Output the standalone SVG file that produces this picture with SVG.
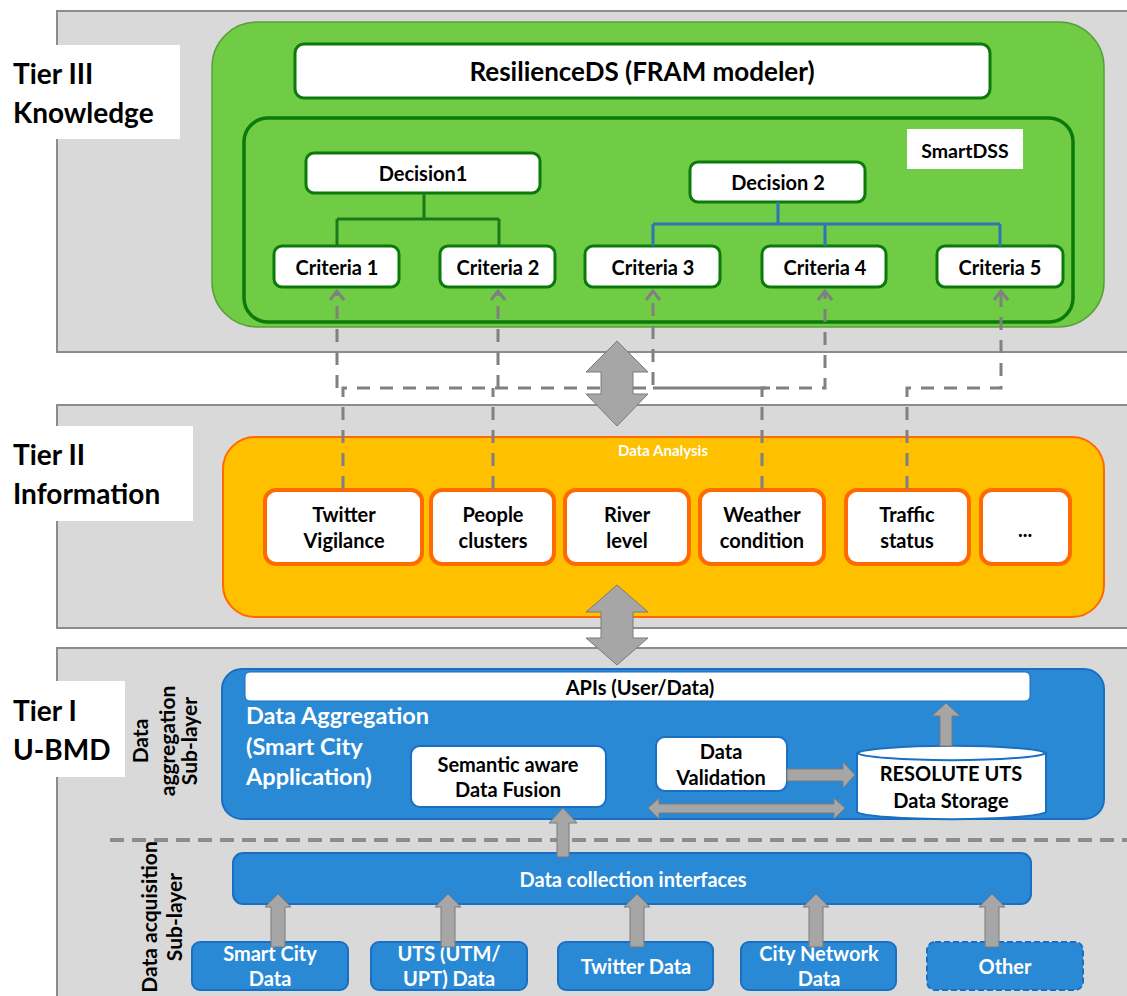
<svg xmlns="http://www.w3.org/2000/svg" width="1127" height="996" viewBox="0 0 1127 996">
<defs>
<style>
text{font-family:Lato,"Liberation Sans",sans-serif;font-weight:bold;}
.panel{fill:#d9d9d9;stroke:#8c8c8c;stroke-width:2;}
.lbl{fill:#fff;}
.tier{font-size:28px;fill:#000;}
.wbox{fill:#fff;stroke:#0b7a0b;stroke-width:3;}
.t18{font-size:20px;fill:#000;text-anchor:middle;}
.obox{fill:#fff;stroke:#ff6a00;stroke-width:4;}
.bbox{fill:#2a89d5;stroke:#1a6fc2;stroke-width:2;}
.wt{fill:#fff;text-anchor:middle;font-size:20px;}
.blk{fill:#a6a6a6;stroke:#7a7a7a;stroke-width:1;}
.dash{fill:none;stroke:#808080;stroke-width:3;stroke-dasharray:13 10;}
.rot{font-size:21px;fill:#000;text-anchor:middle;}
</style>
<marker id="chev" viewBox="-11 -8 13 16" refX="0" refY="0" markerWidth="13" markerHeight="16" markerUnits="userSpaceOnUse" orient="auto">
<path d="M-9,-7 L0,0 L-9,7" fill="none" stroke="#808080" stroke-width="3"/>
</marker>
</defs>

<!-- Tier panels -->
<g id="tier3">
<rect class="panel" x="57" y="11" width="1080" height="341"/>
<rect class="lbl" x="0" y="45" width="180" height="94"/>
<text class="tier" x="13" y="84">Tier III</text>
<text class="tier" x="13" y="123">Knowledge</text>
</g>
<g id="tier2">
<rect class="panel" x="57" y="405" width="1080" height="223"/>
<rect class="lbl" x="0" y="426" width="193" height="95"/>
<text class="tier" x="13" y="465">Tier II</text>
<text class="tier" x="13" y="504">Information</text>
</g>
<g id="tier1">
<rect class="panel" x="57" y="648" width="1080" height="360"/>
<rect class="lbl" x="0" y="681" width="125" height="96"/>
<text class="tier" x="13" y="721">Tier I</text>
<text class="tier" x="13" y="760">U-BMD</text>
<text class="rot" transform="translate(148,741) rotate(-90)">Data</text>
<text class="rot" transform="translate(175,741) rotate(-90)">aggregation</text>
<text class="rot" transform="translate(197,741) rotate(-90)">Sub-layer</text>
<text class="rot" transform="translate(157,917) rotate(-90)">Data acquisition</text>
<text class="rot" transform="translate(182,917) rotate(-90)">Sub-layer</text>
</g>

<!-- Tier III contents -->
<g id="knowledge">
<rect x="212" y="22" width="892" height="305" rx="45" fill="#6fcc44" stroke="#5c9e3c" stroke-width="1.5"/>
</g>
<g id="resilienceds">
<rect class="wbox" x="295" y="44" width="695" height="54" rx="9"/>
<text x="642" y="81" font-size="26" fill="#000" text-anchor="middle">ResilienceDS (FRAM modeler)</text>
</g>
<g id="smartdss">
<rect x="244" y="118" width="829" height="204" rx="24" fill="#6fcc44" stroke="#0b7a0b" stroke-width="3.5"/>
<rect x="907" y="129" width="116" height="40" fill="#fff"/>
<text x="965" y="158" font-size="19.5" fill="#000" text-anchor="middle">SmartDSS</text>
</g>
<g id="decision1">
<rect class="wbox" x="306" y="153" width="234" height="40" rx="8"/>
<text class="t18" x="423" y="181">Decision1</text>
</g>
<g id="decision2">
<rect class="wbox" x="690" y="162" width="175" height="40" rx="8"/>
<text class="t18" x="778" y="190">Decision 2</text>
</g>
<g id="criteria1">
<rect class="wbox" x="274" y="246" width="125" height="41" rx="8"/>
<text class="t18" x="337" y="275">Criteria 1</text>
</g>
<g id="criteria2">
<rect class="wbox" x="440" y="246" width="115" height="41" rx="8"/>
<text class="t18" x="498" y="275">Criteria 2</text>
</g>
<g id="criteria3">
<rect class="wbox" x="585" y="246" width="135" height="41" rx="8"/>
<text class="t18" x="653" y="275">Criteria 3</text>
</g>
<g id="criteria4">
<rect class="wbox" x="762" y="246" width="124" height="41" rx="8"/>
<text class="t18" x="825" y="275">Criteria 4</text>
</g>
<g id="criteria5">
<rect class="wbox" x="937" y="246" width="126" height="41" rx="8"/>
<text class="t18" x="1000" y="275">Criteria 5</text>
</g>

<!-- Tier II contents -->
<g id="data-analysis">
<rect x="223" y="437" width="881" height="180" rx="32" fill="#ffc000" stroke="#ff6a00" stroke-width="2"/>
<text x="663" y="456" font-size="15" fill="#fff" text-anchor="middle">Data Analysis</text>
</g>
<g id="twitter-vigilance">
<rect class="obox" x="265" y="490" width="157" height="74" rx="11"/>
<text class="t18" x="344" y="522">Twitter</text>
<text class="t18" x="344" y="548">Vigilance</text>
</g>
<g id="people-clusters">
<rect class="obox" x="431" y="490" width="123" height="74" rx="11"/>
<text class="t18" x="493" y="522">People</text>
<text class="t18" x="493" y="548">clusters</text>
</g>
<g id="river-level">
<rect class="obox" x="565" y="490" width="124" height="74" rx="11"/>
<text class="t18" x="627" y="522">River</text>
<text class="t18" x="627" y="548">level</text>
</g>
<g id="weather-condition">
<rect class="obox" x="700" y="490" width="124" height="74" rx="11"/>
<text class="t18" x="762" y="522">Weather</text>
<text class="t18" x="762" y="548">condition</text>
</g>
<g id="traffic-status">
<rect class="obox" x="846" y="490" width="123" height="74" rx="11"/>
<text class="t18" x="907" y="522">Traffic</text>
<text class="t18" x="907" y="548">status</text>
</g>
<g id="more">
<rect class="obox" x="981" y="490" width="89" height="74" rx="11"/>
<text class="t18" x="1025" y="537">...</text>
</g>

<!-- Tier I contents -->
<g id="data-aggregation">
<rect x="222" y="669" width="882" height="150" rx="20" fill="#2a89d5" stroke="#1a6fc2" stroke-width="2"/>
<text x="246" y="724" font-size="23.5" fill="#fff">Data Aggregation</text>
<text x="246" y="755" font-size="23.5" fill="#fff">(Smart City</text>
<text x="246" y="785" font-size="23.5" fill="#fff">Application)</text>
</g>
<g id="apis">
<rect x="245" y="672" width="785" height="29" rx="5" fill="#fff" stroke="#1a6fc2" stroke-width="1"/>
<text x="640" y="695" font-size="20" fill="#000" text-anchor="middle">APIs (User/Data)</text>
</g>
<g id="semantic-fusion">
<rect x="411" y="746" width="195" height="61" rx="9" fill="#fff" stroke="#1a6fc2" stroke-width="2"/>
<text class="t18" x="508" y="772">Semantic aware</text>
<text class="t18" x="508" y="797">Data Fusion</text>
</g>
<g id="data-validation">
<rect x="656" y="737" width="131" height="54" rx="9" fill="#fff" stroke="#1a6fc2" stroke-width="2"/>
<text class="t18" x="721" y="759">Data</text>
<text class="t18" x="721" y="785">Validation</text>
</g>
<g id="data-storage">
<path d="M857,753 A95,8 0 0 1 1046,753 V812 A95,8 0 0 1 857,812 Z" fill="#fff" stroke="#1a6fc2" stroke-width="2"/>
<path d="M857,753 A95,8 0 0 0 1046,753" fill="none" stroke="#1a6fc2" stroke-width="2"/>
<text class="t18" x="951" y="781" font-size="19">RESOLUTE UTS</text>
<text class="t18" x="951" y="808" font-size="19">Data Storage</text>
</g>
<g id="collection-interfaces">
<rect class="bbox" x="233" y="853" width="798" height="51" rx="10"/>
<text class="wt" x="633" y="887">Data collection interfaces</text>
</g>
<g id="smart-city-data">
<rect class="bbox" x="192" y="942" width="156" height="48" rx="8"/>
<text class="wt" x="270" y="961">Smart City</text>
<text class="wt" x="270" y="986">Data</text>
</g>
<g id="uts-data">
<rect class="bbox" x="371" y="942" width="156" height="48" rx="8"/>
<text class="wt" x="449" y="961">UTS (UTM/</text>
<text class="wt" x="449" y="986">UPT) Data</text>
</g>
<g id="twitter-data">
<rect class="bbox" x="558" y="942" width="155" height="48" rx="8"/>
<text class="wt" x="636" y="974">Twitter Data</text>
</g>
<g id="city-network-data">
<rect class="bbox" x="741" y="942" width="155" height="48" rx="8"/>
<text class="wt" x="819" y="961">City Network</text>
<text class="wt" x="819" y="986">Data</text>
</g>
<g id="other">
<rect class="bbox" x="927" y="942" width="156" height="48" rx="8" stroke-dasharray="6 3"/>
<text class="wt" x="1005" y="974">Other</text>
</g>

<!-- Connectors -->
<g id="connectors">
<path d="M424,193 V219 M337,219 H499 M337,219 V246 M499,219 V246" fill="none" stroke="#1a7a1a" stroke-width="3"/>
<path d="M778,202 V224 M653,224 H1000 M653,224 V246 M825,224 V246 M1000,224 V246" fill="none" stroke="#2e75b6" stroke-width="3"/>

<path class="dash" d="M337,388 V291" marker-end="url(#chev)"/>
<path class="dash" d="M498,388 V291" marker-end="url(#chev)"/>
<path class="dash" d="M343,489 V388 H653 V291" marker-end="url(#chev)"/>
<path class="dash" d="M493,489 V388"/>
<path d="M653,388 H770" fill="none" stroke="#808080" stroke-width="3"/>
<path class="dash" d="M762,489 V388 H825 V291" marker-end="url(#chev)"/>
<path class="dash" d="M907,489 V388 H1001 V291" marker-end="url(#chev)"/>

<path d="M110,840 H1127" fill="none" stroke="#8c8c8c" stroke-width="4" stroke-dasharray="14 8"/>

<polygon class="blk" points="617,341 648,372 633,372 633,394 648,394 617,426 586,394 601,394 601,372 586,372"/>
<polygon class="blk" points="617,585 648,612 633,612 633,638 648,638 617,665 586,638 601,638 601,612 586,612"/>

<polygon class="blk" points="946,703 960,716 952,716 952,746 940,746 940,716 932,716"/>
<polygon class="blk" points="855,775 843,762 843,769 787,769 787,781 843,781 843,788"/>
<polygon class="blk" points="648,808 659,798 659,804 834,804 834,798 845,808 834,819 834,813 659,813 659,819"/>
<polygon class="blk" points="563,808 577,823 569,823 569,857 557,857 557,823 549,823"/>

<polygon class="blk" points="278,894 291,907 285,907 285,947 271,947 271,907 265,907"/>
<polygon class="blk" points="448,894 461,907 455,907 455,947 441,947 441,907 435,907"/>
<polygon class="blk" points="637,894 650,907 644,907 644,947 630,947 630,907 624,907"/>
<polygon class="blk" points="816,894 829,907 823,907 823,947 809,947 809,907 803,907"/>
<polygon class="blk" points="992,894 1005,907 999,907 999,947 985,947 985,907 979,907"/>
</g>
</svg>
